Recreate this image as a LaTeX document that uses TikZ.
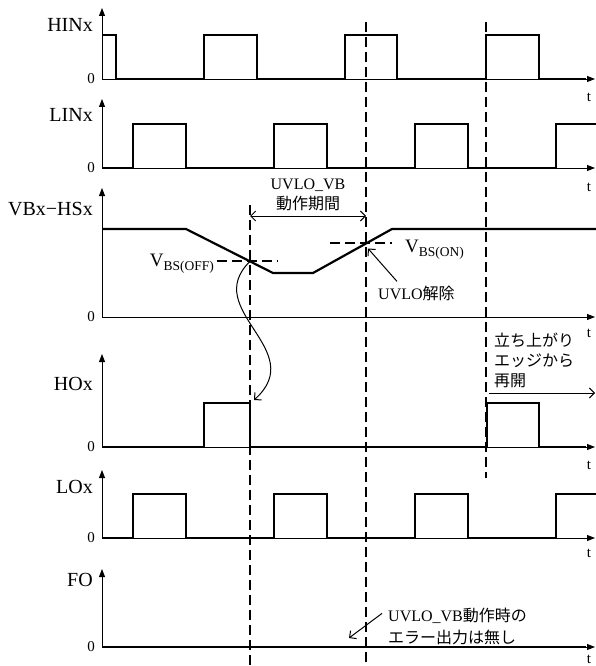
\documentclass[tikz,border=0pt]{standalone}
\usepackage{fontspec}
\setmainfont{Liberation Serif}
\newfontfamily\jp{Noto Sans CJK JP}
\usetikzlibrary{arrows.meta}

\tikzset{barb/.tip={Straight Barb[length=5pt,width=10pt]}}

\begin{document}
\begin{tikzpicture}[x=1pt,y=-1pt,
  axis/.style={line width=0.9pt,-{Triangle[length=8pt,width=6pt]}},
  wave/.style={line width=2.2pt},
  guide/.style={line width=1.1pt,dash pattern=on 10pt off 5pt},
  note/.style={line width=1pt,-barb},
  sig/.style={font=\fontsize{20}{20}\selectfont,anchor=east,inner sep=0pt},
  zero/.style={font=\fontsize{15}{15}\selectfont,anchor=east,inner sep=0pt},
  tlab/.style={font=\fontsize{15}{15}\selectfont,inner sep=0pt},
  txt/.style={font=\fontsize{16}{20}\selectfont,inner sep=0pt}]
\useasboundingbox (0,0) rectangle (596,666);

%% axes
\foreach \nm/\lab/\base/\top/\ly/\tdy in {hin/HINx/79/8/25/18, lin/LINx/168/99/115/19,
    vb/VBx−HSx/317/188/209/16, ho/HOx/447/354/384/18, lo/LOx/538/470/487/15, fo/FO/647/569/580/12}{
  \draw[axis] (102,\base) -- (102,\top);
  \draw[axis] (102,\base) -- (595,\base);
  \node[sig] (\nm) at (93,\ly) {\lab};
  \node[zero] (\nm0) at (95,\base) {0};
  \node[tlab] (\nm-t) at (589,\base+\tdy) {t};
}

%% waveforms
\draw[wave] (102,35) -| (116,79) -| (204,35) -| (257,79) -| (345,35) -| (397,79)
  -| (486,35) -| (539,79) -- (586,79);
\draw[wave] (102,168) -| (133,124) -| (186,168) -| (274,124) -| (327,168) -| (415,124)
  -| (468,168) -| (556,124) -- (596,124);
\draw[wave] (102,229) -- (186,229) -- (273,273) -- (313,273) -- (392,229) -- (596,229);
\draw[wave] (102,447) -| (204,403) -| (250,447) -| (487,403) -| (539,447) -- (586,447);
\draw[wave] (102,538) -| (133,494) -| (186,538) -| (274,494) -| (327,538) -| (415,494)
  -| (468,538) -| (556,494) -- (596,494);
\draw[wave] (102,647) -- (586,647);

%% thresholds
\coordinate (off) at (250,261.4);
\coordinate (on) at (366,243.5);
\draw[guide] (217,261) -- (278,261);
\draw[guide] (330,243) -- (392,243);
\draw[guide] (250,205) -- (250,666);
\draw[guide] (366,22) -- (366,666);
\draw[guide] (486,22) -- (486,478);

\node[anchor=base east,inner sep=0pt,font=\fontsize{19}{19}\selectfont] (voff) at (214,266)
  {V\raisebox{-4pt}{\fontsize{13.5}{13.5}\selectfont BS(OFF)}};
\node[anchor=base west,inner sep=0pt,font=\fontsize{19}{19}\selectfont] (von) at (405,252)
  {V\raisebox{-4pt}{\fontsize{13.5}{13.5}\selectfont BS(ON)}};

%% notes
\node[txt,align=center] (period) at (308,195) {UVLO\_VB\\{\jp 動作期間}};
\draw[line width=1pt,barb-barb] (250,216) -- (366,216);

\node[txt,anchor=west] (unlock) at (378,293) {UVLO{\jp 解除}};
\draw[note] ([xshift=19pt,yshift=4pt]unlock.north west) -- ([shift={(2,5)}]on);

\coordinate (hoend) at (254,400);
\draw[note] (off) .. controls (200,310) and (310,350) .. (hoend);

\node[txt,anchor=north west,align=left] (restart) at (494,333)
  {{\jp 立ち上がり}\\{\jp エッジから}\\{\jp 再開}};
\coordinate (rs) at (489,393);
\draw[note] (rs) -- ++(106,0);

\node[txt,anchor=west,align=left,font=\fontsize{16}{22}\selectfont] (nofault) at (388,626)
  {UVLO\_VB{\jp 動作時の}\\{\jp エラー出力は無し}};
\draw[note] ([xshift=-6pt,yshift=-6pt]nofault.north west) -- (349,638);
\end{tikzpicture}
\end{document}
